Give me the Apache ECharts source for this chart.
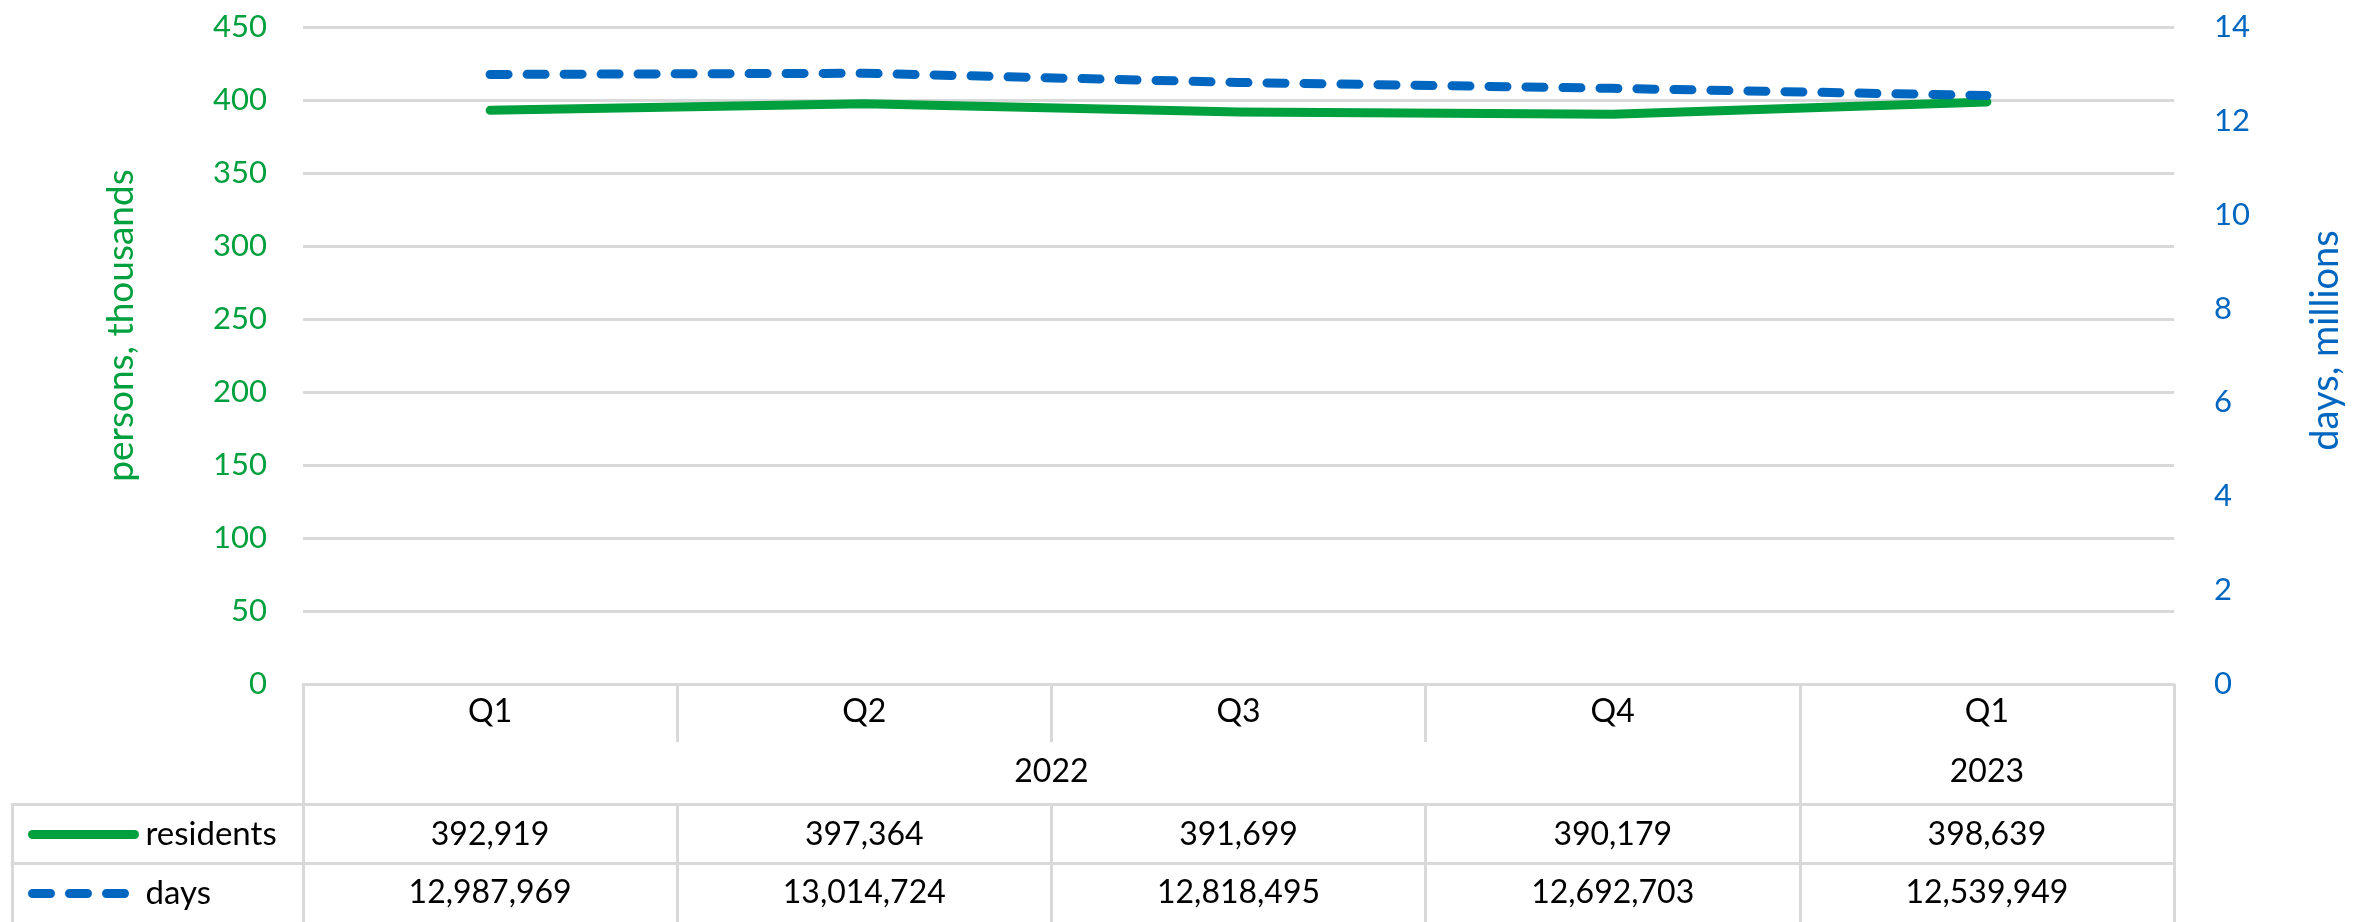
<!DOCTYPE html>
<html>
<head>
<meta charset="utf-8">
<script src="https://cdn.jsdelivr.net/npm/echarts@6/dist/echarts.min.js"></script>
<style>
  html, body { margin: 0; padding: 0; background: #ffffff; }
  #chart { width: 2356px; height: 922px; }
</style>
</head>
<body>
<div id="chart"></div>
<script>
// Quarterly series
const quarters = ['Q1', 'Q2', 'Q3', 'Q4', 'Q1'];
const years = ['2022', '2022', '2022', '2022', '2023'];
const residents = [392919, 397364, 391699, 390179, 398639];
const days = [12987969, 13014724, 12818495, 12692703, 12539949];

// Axis scales (persons in thousands, days in millions)
const leftScale = { min: 0, max: 450, interval: 50 };
const rightScale = { min: 0, max: 14, interval: 2 };

const GREEN = '#00a03e';
const BLUE = '#0066c0';
const RULE = '#d9d9d9';
const FONT = 'Lato';

const fmt = v => v.toLocaleString('en-US');

// Year row: half-column slots so a year label can sit at the middle of its span
const n = quarters.length;
const yearSlots = [];
for (let i = 0; i <= 2 * n; i++) yearSlots.push(String(i));
const yearLabelAt = {};
const yearBoundary = new Set([0, 2 * n]);
let start = 0;
for (let i = 1; i <= n; i++) {
  if (i === n || years[i] !== years[start]) {
    yearLabelAt[start + i] = years[start];
    yearBoundary.add(2 * start);
    yearBoundary.add(2 * i);
    start = i;
  }
}

const grid = { left: 303, right: 182, top: 27, bottom: 238 };
const legendGrid = { left: 12, right: 2356 - 303, top: 27, bottom: 238 };

const ROW1 = 120;  // offset of residents row top border
const ROW2 = 179;  // offset of days row top border
const ROWH = 59;

const tableLine = { show: true, onZero: false, lineStyle: { color: RULE, width: 3 } };
const tick = (length, interval) => ({ show: true, interval, length, lineStyle: { color: RULE, width: 3 } });

const option = {
  animation: false,
  backgroundColor: '#ffffff',
  textStyle: { fontFamily: FONT },
  grid: [grid, legendGrid],
  legend: {
    data: ['residents', 'days'],
    orient: 'vertical',
    left: 28,
    top: 818,
    padding: 0,
    itemWidth: 102,
    itemHeight: 14,
    itemGap: 26,
    itemStyle: { opacity: 0 },
    lineStyle: { width: 9 },
    textStyle: { fontSize: 33, color: '#000', fontFamily: FONT, padding: [0, 0, 0, 6] }
  },
  xAxis: [
    { // quarter row
      type: 'category', gridIndex: 0, data: quarters, position: 'bottom', offset: 0,
      axisLine: tableLine,
      axisTick: tick(58, 0),
      axisLabel: { interval: 0, fontSize: 32, color: '#000', margin: 12 },
      splitLine: { show: false }
    },
    { // year row
      type: 'category', gridIndex: 0, data: yearSlots, boundaryGap: false, position: 'bottom', offset: 0,
      axisLine: { show: false, onZero: false },
      axisTick: tick(ROW1, (i) => yearBoundary.has(i)),
      axisLabel: { interval: 0, fontSize: 32, color: '#000', margin: 72, formatter: (v, i) => yearLabelAt[i] || '' },
      splitLine: { show: false }
    },
    { // residents row
      type: 'category', gridIndex: 0, data: residents.map(fmt), position: 'bottom', offset: ROW1,
      axisLine: tableLine,
      axisTick: tick(ROWH, 0),
      axisLabel: { interval: 0, fontSize: 32, color: '#000', margin: 15 },
      splitLine: { show: false }
    },
    { // days row
      type: 'category', gridIndex: 0, data: days.map(fmt), position: 'bottom', offset: ROW2,
      axisLine: tableLine,
      axisTick: tick(ROWH, 0),
      axisLabel: { interval: 0, fontSize: 32, color: '#000', margin: 14 },
      splitLine: { show: false }
    },
    { // legend cell, residents row
      type: 'category', gridIndex: 1, data: [''], position: 'bottom', offset: ROW1,
      axisLine: tableLine,
      axisTick: tick(ROWH, 0),
      axisLabel: { show: false }
    },
    { // legend cell, days row
      type: 'category', gridIndex: 1, data: [''], position: 'bottom', offset: ROW2,
      axisLine: tableLine,
      axisTick: tick(ROWH, 0),
      axisLabel: { show: false }
    }
  ],
  yAxis: [
    {
      type: 'value', gridIndex: 0, position: 'left',
      min: leftScale.min, max: leftScale.max, interval: leftScale.interval,
      name: 'persons, thousands', nameLocation: 'middle', nameRotate: 90, nameGap: 163,
      nameTextStyle: { fontSize: 37, color: GREEN, padding: [0, 0, 0, 60] },
      axisLine: { show: false }, axisTick: { show: false },
      axisLabel: { fontSize: 31, color: GREEN, margin: 36 },
      splitLine: { show: true, lineStyle: { color: RULE, width: 3 } }
    },
    {
      type: 'value', gridIndex: 0, position: 'right',
      min: rightScale.min, max: rightScale.max, interval: rightScale.interval,
      name: 'days, millions', nameLocation: 'middle', nameRotate: 90, nameGap: 133,
      nameTextStyle: { fontSize: 38, color: BLUE, padding: [0, 0, 0, 30] },
      axisLine: { show: false }, axisTick: { show: false },
      axisLabel: { fontSize: 31, color: BLUE, margin: 40 },
      splitLine: { show: false }
    },
    { type: 'value', gridIndex: 1, show: false }
  ],
  series: [
    {
      name: 'residents', type: 'line', xAxisIndex: 0, yAxisIndex: 0,
      data: residents.map(v => v / 1000),
      symbol: 'none', z: 3,
      itemStyle: { color: GREEN },
      lineStyle: { color: GREEN, width: 9, cap: 'round', join: 'round' }
    },
    {
      name: 'days', type: 'line', xAxisIndex: 0, yAxisIndex: 1,
      data: days.map(v => v / 1e6),
      symbol: 'none', z: 4,
      itemStyle: { color: BLUE },
      lineStyle: { color: BLUE, width: 9, type: [18, 19], cap: 'round', join: 'round' }
    }
  ]
};

const chart = echarts.init(document.getElementById('chart'), null, { renderer: 'canvas' });
chart.setOption(option);
</script>
</body>
</html>
